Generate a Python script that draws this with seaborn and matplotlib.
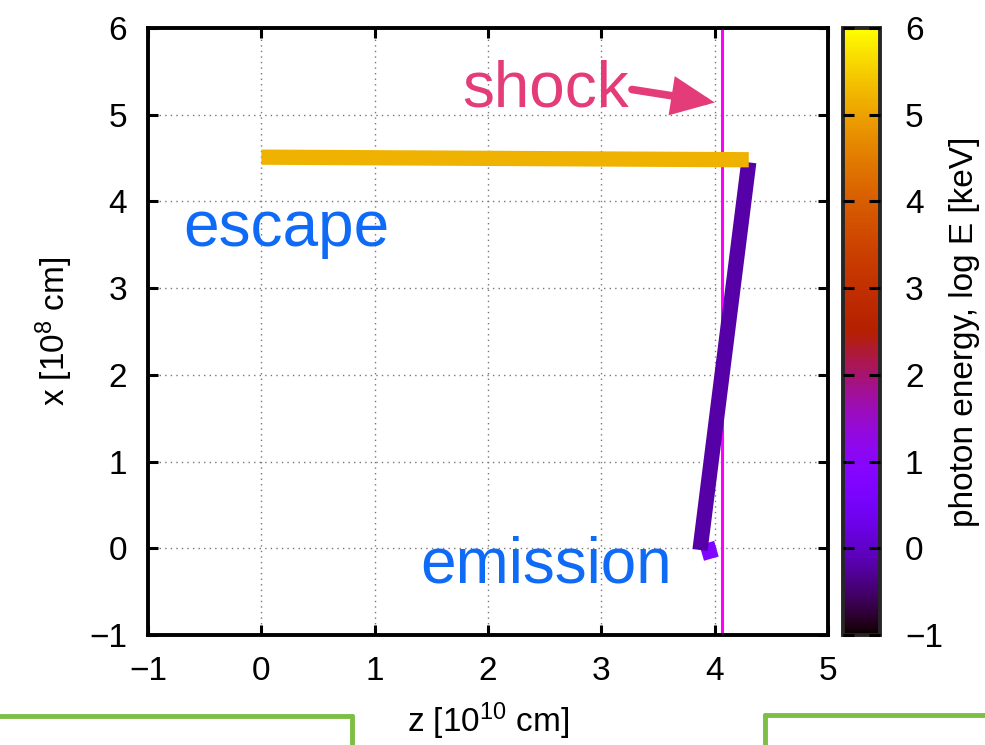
import numpy as np
import matplotlib
matplotlib.use("Agg")
import matplotlib.pyplot as plt
import seaborn as sns
from matplotlib.lines import Line2D
from matplotlib.colors import Normalize
import matplotlib.cm as cm

# ---- data ----
seg_z0 = [3.93, 3.87, 0.00]
seg_z1 = [3.97, 4.30, 4.30]
seg_x0 = [0.06, -0.02, 4.51]
seg_x1 = [-0.12, 4.45, 4.48]
seg_logE = [0.75, -0.20, 5.20]
shock_z = 4.06
xticks = [-1, 0, 1, 2, 3, 4, 5]
yticks = [-1, 0, 1, 2, 3, 4, 5, 6]
cticks = [-1, 0, 1, 2, 3, 4, 5, 6]

sns.set_style("white")
plt.rcParams['font.family'] = ['Liberation Sans', 'DejaVu Sans']
plt.rcParams['mathtext.fontset'] = 'custom'
plt.rcParams['mathtext.rm'] = 'Liberation Sans'
plt.rcParams['mathtext.it'] = 'Liberation Sans'
plt.rcParams['axes.axisbelow'] = False
for k in ['text.color', 'axes.labelcolor', 'xtick.color', 'ytick.color']:
    plt.rcParams[k] = 'black'

fig = plt.figure(figsize=(9.85, 7.45), dpi=100)
ax = fig.add_axes([0.1503, 0.1477, 0.6904, 0.8148])
cax = fig.add_axes([0.8558, 0.1477, 0.0376, 0.8148])

cmap = matplotlib.colormaps['gnuplot']
norm = Normalize(-1, 6)

# grid
for v in xticks[1:-1]:
    ax.axvline(v, color='#777777', lw=1.0, ls=(0, (1, 3)), zorder=0)
for v in yticks[1:-1]:
    ax.axhline(v, color='#777777', lw=1.0, ls=(0, (1, 3)), zorder=0)

# shock
ax.axvline(shock_z, color='#ff00ff', lw=2.2, zorder=2)

# photon path
for i in [0, 1, 2]:
    sns.lineplot(x=[seg_z0[i], seg_z1[i]], y=[seg_x0[i], seg_x1[i]], ax=ax,
                 color=cmap(norm(seg_logE[i])), lw=11, sort=False,
                 estimator=None, solid_capstyle='butt', zorder=3)

def mlabel(t):
    return '\u22121' if t == -1 else str(t)

ax.set_xlim(-1, 5)
ax.set_ylim(-1, 6)
ax.set_xticks(xticks)
ax.set_yticks(yticks)
ax.set_xticklabels([mlabel(t) for t in xticks])
ax.set_yticklabels([mlabel(t) for t in yticks])
ax.tick_params(direction='in', length=7, width=2.2, labelsize=24, color='black',
               top=True, right=True, bottom=True, left=True)
ax.tick_params(axis='y', pad=15)
ax.tick_params(axis='x', pad=15)
for s in ax.spines.values():
    s.set_linewidth(2.8)
    s.set_color('black')
ax.set_xlabel(r'z [10$^{10}$ cm]', fontsize=24, labelpad=10)
ax.set_ylabel(r'x [10$^{8}$ cm]', fontsize=24, labelpad=10)

# annotations
ax.text(1.77, 5.09, 'shock', color='#e33c78', fontsize=46, va='baseline', ha='left')
ax.annotate('', xy=(4.00, 5.14), xytext=(3.27, 5.29),
            arrowprops=dict(arrowstyle='-|>,head_length=2.2,head_width=1.0',
                            color='#e33c78', lw=5.5, shrinkA=0, shrinkB=0,
                            joinstyle='miter'))
ax.text(-0.69, 3.48, 'escape', color='#0f6af5', fontsize=46, va='baseline', ha='left')
ax.text(1.40, -0.40, 'emission', color='#0f6af5', fontsize=46, va='baseline', ha='left')

# colorbar
sm = cm.ScalarMappable(norm=norm, cmap=cmap)
cb = fig.colorbar(sm, cax=cax)
cb.set_ticks(cticks)
cb.set_ticklabels([mlabel(t) for t in cticks])
cax.set_axisbelow(False)
cax.tick_params(direction='in', length=8, width=2.2, labelsize=24, color='black',
                left=True, right=True, pad=18)
cb.outline.set_linewidth(2.8)
cb.set_label('photon energy, log E [keV]', fontsize=24, labelpad=4)

# green frames of neighbouring panels
green = '#7dbe45'
fig.add_artist(Line2D([0, 352/985], [1-716/745, 1-716/745], color=green, lw=3.5,
                      transform=fig.transFigure))
fig.add_artist(Line2D([352/985, 352/985], [1-716/745, 0], color=green, lw=3.5,
                      transform=fig.transFigure))
fig.add_artist(Line2D([765/985, 1], [1-715/745, 1-715/745], color=green, lw=3.5,
                      transform=fig.transFigure))
fig.add_artist(Line2D([765/985, 765/985], [1-715/745, 0], color=green, lw=3.5,
                      transform=fig.transFigure))

fig.savefig('out.png', dpi=100)
